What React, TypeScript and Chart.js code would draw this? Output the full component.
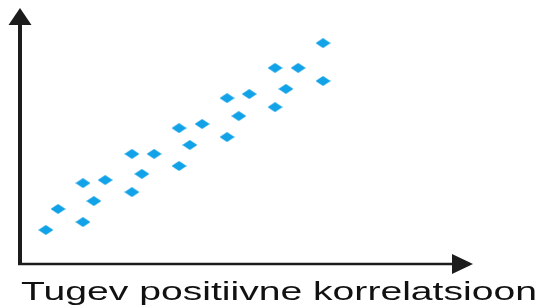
import React, { useEffect, useRef } from "react";
import { Chart, registerables } from "chart.js";

Chart.register(...registerables);

const xValues = [5.7, 8.4, 13.9, 13.9, 16.3, 18.8, 24.7, 24.7, 26.9, 29.6, 35.1, 35.1, 37.5, 40.2, 45.7, 45.7, 48.3, 50.6, 56.3, 56.3, 58.7, 61.4, 66.9, 66.9];
const yValues = [13.3, 21.5, 16.4, 31.6, 24.6, 32.8, 28.1, 43.0, 35.2, 43.0, 38.3, 53.1, 46.5, 54.7, 49.6, 64.8, 57.8, 66.4, 61.3, 76.6, 68.4, 76.6, 71.5, 86.3];
const titleText = "Tugev positiivne korrelatsioon";

const POINT_COLOR = "#12a2e8";
const AXIS_COLOR = "#1c1c1c";

function makeDiamond(): HTMLCanvasElement {
  const c = document.createElement("canvas");
  const w = 15;
  const h = 10;
  c.width = w;
  c.height = h;
  const ctx = c.getContext("2d")!;
  ctx.fillStyle = POINT_COLOR;
  ctx.beginPath();
  ctx.moveTo(w / 2, 0);
  ctx.lineTo(w, h / 2);
  ctx.lineTo(w / 2, h);
  ctx.lineTo(0, h / 2);
  ctx.closePath();
  ctx.fill();
  return c;
}

const axesPlugin = {
  id: "arrowAxes",
  afterDraw(chart: any) {
    const { ctx, chartArea } = chart;
    const { left, right, top, bottom } = chartArea;
    ctx.save();
    ctx.strokeStyle = AXIS_COLOR;
    ctx.fillStyle = AXIS_COLOR;
    // vertical axis
    ctx.lineWidth = 4;
    ctx.beginPath();
    ctx.moveTo(left, bottom + 1);
    ctx.lineTo(left, top + 15);
    ctx.stroke();
    ctx.beginPath();
    ctx.moveTo(left, top);
    ctx.lineTo(left + 11.5, top + 17);
    ctx.lineTo(left - 11.5, top + 17);
    ctx.closePath();
    ctx.fill();
    // horizontal axis
    ctx.lineWidth = 2.5;
    ctx.beginPath();
    ctx.moveTo(left - 2, bottom);
    ctx.lineTo(right - 18, bottom);
    ctx.stroke();
    ctx.beginPath();
    ctx.moveTo(right, bottom);
    ctx.lineTo(right - 21, bottom - 10);
    ctx.lineTo(right - 21, bottom + 10);
    ctx.closePath();
    ctx.fill();
    // caption (horizontally stretched like the reference)
    ctx.font = "25px 'Liberation Sans', Arial, sans-serif";
    ctx.textBaseline = "alphabetic";
    ctx.textAlign = "left";
    ctx.fillStyle = "#111";
    const m = ctx.measureText(titleText).width;
    const targetW = 516;
    ctx.translate(21, 300);
    ctx.scale(targetW / m, 1);
    ctx.fillText(titleText, 0, 0);
    ctx.restore();
  },
};

export default function App() {
  const ref = useRef<HTMLCanvasElement | null>(null);
  useEffect(() => {
    if (!ref.current) return;
    const diamond = makeDiamond();
    const chart = new Chart(ref.current, {
      type: "scatter",
      data: {
        datasets: [
          {
            label: "data",
            data: xValues.map((x, i) => ({ x, y: yValues[i] })),
            pointStyle: diamond as any,
            pointRadius: 7,
            backgroundColor: POINT_COLOR,
            borderColor: POINT_COLOR,
          },
        ],
      },
      options: {
        animation: false,
        responsive: true,
        maintainAspectRatio: false,
        layout: { padding: { left: 20, right: 70, top: 8, bottom: 44 } },
        plugins: {
          legend: { display: false },
          tooltip: { enabled: false },
          title: { display: false },
        },
        scales: {
          x: { type: "linear", min: 0, max: 100, display: false },
          y: { type: "linear", min: 0, max: 100, display: false },
        },
      },
      plugins: [axesPlugin],
    });
    return () => chart.destroy();
  }, []);
  return (
    <div style={{ position: "fixed", left: 0, top: 0, width: 543, height: 308, background: "#fff" }}>
      <canvas ref={ref} />
    </div>
  );
}
